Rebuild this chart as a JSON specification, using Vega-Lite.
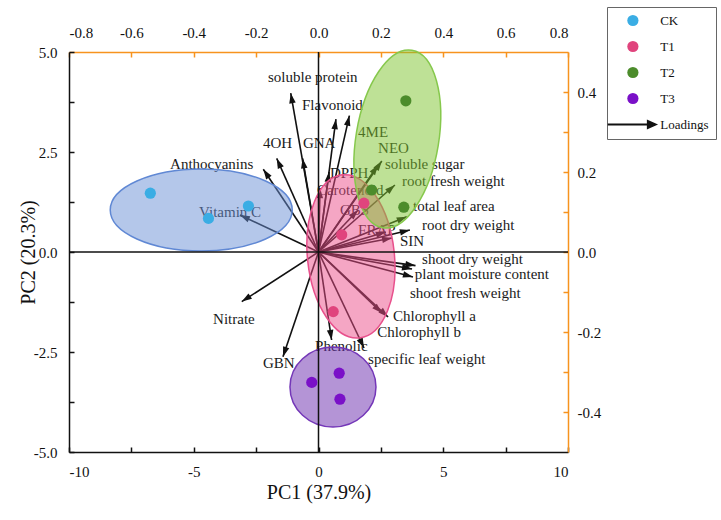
{
  "$schema": "https://vega.github.io/schema/vega-lite/v6.json",
  "width": 499,
  "height": 400,
  "autosize": {"type": "none"},
  "padding": {"left": 69, "top": 52, "right": 153, "bottom": 68},
  "background": "white",
  "config": {
    "view": {"stroke": null},
    "font": "Liberation Serif",
    "axis": {
      "labelFont": "Liberation Serif",
      "titleFont": "Liberation Serif",
      "labelFontSize": 15,
      "titleFontSize": 20,
      "titleFontWeight": "normal",
      "labelColor": "#111111",
      "titleColor": "#111111",
      "grid": false,
      "domainWidth": 1.5,
      "tickWidth": 1.5,
      "tickSize": -5,
      "domainColor": "#111111",
      "tickColor": "#111111"
    },
    "legend": {"labelFont": "Liberation Serif"}
  },
  "datasets": {
    "scores": [
      {"group": "CK", "x": -6.74, "y": 1.47},
      {"group": "CK", "x": -4.41, "y": 0.84},
      {"group": "CK", "x": -2.81, "y": 1.15},
      {"group": "T1", "x": 1.82, "y": 1.22},
      {"group": "T1", "x": 0.93, "y": 0.43},
      {"group": "T1", "x": 0.59, "y": -1.49},
      {"group": "T2", "x": 3.5, "y": 3.78},
      {"group": "T2", "x": 3.42, "y": 1.12},
      {"group": "T2", "x": 2.13, "y": 1.55},
      {"group": "T3", "x": -0.27, "y": -3.26},
      {"group": "T3", "x": 0.83, "y": -3.03},
      {"group": "T3", "x": 0.86, "y": -3.68}
    ],
    "ellipses": [
      {"group": "CK", "x": -4.7, "y": 1.05},
      {"group": "T1", "x": 1.3, "y": -0.11},
      {"group": "T2", "x": 3.16, "y": 2.825},
      {"group": "T3", "x": 0.58, "y": -3.375}
    ],
    "origin": [{"x": 0, "y": 0}],
    "loadings": [
      {"name": "soluble protein", "lx": -0.089, "ly": 0.397, "tx": -0.162, "ty": 0.4375},
      {"name": "Flavonoid", "lx": 0.056, "ly": 0.332, "tx": -0.053, "ty": 0.3675},
      {"name": "4ME", "lx": 0.099, "ly": 0.341, "tx": 0.127, "ty": 0.3},
      {"name": "GNA", "lx": -0.051, "ly": 0.234, "tx": -0.05, "ty": 0.2725},
      {"name": "4OH", "lx": -0.134, "ly": 0.234, "tx": -0.178, "ty": 0.2725},
      {"name": "Anthocyanins", "lx": -0.177, "ly": 0.207, "tx": -0.476, "ty": 0.22},
      {"name": "Vitamin C", "lx": -0.252, "ly": 0.0925, "tx": -0.383, "ty": 0.1},
      {"name": "DPPH", "lx": 0.034, "ly": 0.2, "tx": 0.037, "ty": 0.1975},
      {"name": "Carotenoid", "lx": 0.005, "ly": 0.16, "tx": -0.005, "ty": 0.155},
      {"name": "GBS", "lx": 0.127, "ly": 0.105, "tx": 0.069, "ty": 0.105},
      {"name": "FRAP", "lx": 0.216, "ly": 0.05, "tx": 0.127, "ty": 0.055},
      {"name": "SIN", "lx": 0.236, "ly": 0.035, "tx": 0.261, "ty": 0.0275},
      {"name": "root dry weight", "lx": 0.293, "ly": 0.055, "tx": 0.332, "ty": 0.0675},
      {"name": "total leaf area", "lx": 0.283, "ly": 0.088, "tx": 0.303, "ty": 0.115},
      {"name": "root fresh weight", "lx": 0.245, "ly": 0.1675, "tx": 0.268, "ty": 0.1775},
      {"name": "soluble sugar", "lx": 0.203, "ly": 0.2275, "tx": 0.213, "ty": 0.22},
      {"name": "NEO", "lx": 0.191, "ly": 0.2175, "tx": 0.191, "ty": 0.26},
      {"name": "shoot dry weight", "lx": 0.311, "ly": -0.034, "tx": 0.332, "ty": -0.0175},
      {"name": "plant moisture content", "lx": 0.3, "ly": -0.0425, "tx": 0.309, "ty": -0.055},
      {"name": "shoot fresh weight", "lx": 0.303, "ly": -0.0625, "tx": 0.293, "ty": -0.1025},
      {"name": "Chlorophyll a", "lx": 0.223, "ly": -0.1625, "tx": 0.239, "ty": -0.16},
      {"name": "Chlorophyll b", "lx": 0.203, "ly": -0.1525, "tx": 0.188, "ty": -0.2},
      {"name": "specific leaf weight", "lx": 0.146, "ly": -0.24, "tx": 0.159, "ty": -0.2675},
      {"name": "Phenolic", "lx": 0.042, "ly": -0.22, "tx": -0.011, "ty": -0.235},
      {"name": "GBN", "lx": -0.114, "ly": -0.262, "tx": -0.178, "ty": -0.2775},
      {"name": "Nitrate", "lx": -0.246, "ly": -0.124, "tx": -0.338, "ty": -0.1675}
    ]
  },
  "resolve": {
    "scale": {"x": "independent", "y": "independent"},
    "axis": {"x": "independent", "y": "independent"}
  },
  "layer": [
    {
      "data": {"name": "loadings"},
      "layer": [
        {
          "mark": {"type": "rule", "color": "#111111", "strokeWidth": 1.6},
          "encoding": {
            "x": {
              "field": "lx", "type": "quantitative",
              "scale": {"domain": [-0.8, 0.8], "nice": false, "zero": false},
              "axis": {
                "orient": "top", "title": null,
                "values": [-0.8, -0.6, -0.4, -0.2, 0, 0.2, 0.4, 0.6, 0.8],
                "labelExpr": "(datum.value < -0.001 ? '-' : '') + format(abs(datum.value), '.1f')",
                "labelFont": "Liberation Serif", "labelFontSize": 15,
                "domainColor": "#F7931E", "tickColor": "#F7931E",
                "labelPadding": 17
              }
            },
            "y": {
              "field": "ly", "type": "quantitative",
              "scale": {"domain": [-0.5, 0.5], "nice": false, "zero": false},
              "axis": {
                "orient": "right", "title": null,
                "values": [-0.4, -0.3, -0.2, -0.1, 0, 0.1, 0.2, 0.3, 0.4],
                "labelExpr": "round(datum.value * 10) % 2 !== 0 ? '' : (datum.value < -0.001 ? '-' : '') + format(abs(datum.value), '.1f')",
                "labelFont": "Liberation Serif", "labelFontSize": 15,
                "domainColor": "#F7931E", "tickColor": "#F7931E",
                "labelPadding": 14
              }
            },
            "x2": {"datum": 0},
            "y2": {"datum": 0}
          }
        },
        {
          "transform": [{"calculate": "atan2(datum.lx * 311.9, datum.ly * 400) * 180 / PI", "as": "ang"}],
          "mark": {"type": "point", "shape": "M0,0L0.42,1.3L-0.42,1.3Z", "filled": true, "color": "#111111", "size": 240, "opacity": 1, "strokeWidth": 0},
          "encoding": {
            "x": {"field": "lx", "type": "quantitative"},
            "y": {"field": "ly", "type": "quantitative"},
            "angle": {"field": "ang", "type": "quantitative", "scale": null}
          }
        },
        {
          "mark": {"type": "text", "align": "left", "baseline": "middle", "font": "Liberation Serif", "fontSize": 15, "color": "#1a1a1a"},
          "encoding": {
            "x": {"field": "tx", "type": "quantitative"},
            "y": {"field": "ty", "type": "quantitative"},
            "text": {"field": "name"}
          }
        }
      ]
    },
    {
      "layer": [
        {
          "data": {"name": "ellipses"},
          "transform": [{"filter": "datum.group === 'CK'"}],
          "mark": {"type": "point", "shape": "M0,-1C0.2485,-1,0.45,-0.552,0.45,0C0.45,0.552,0.2485,1,0,1C-0.2485,1,-0.45,0.552,-0.45,0C-0.45,-0.552,-0.2485,-1,0,-1Z", "size": 33124, "angle": 90, "filled": true, "fill": "#6A8FD6", "fillOpacity": 0.5, "stroke": "#6088D4", "strokeWidth": 1.5, "opacity": 1},
          "encoding": {
            "x": {"field": "x", "type": "quantitative"},
            "y": {"field": "y", "type": "quantitative"}
          }
        },
        {
          "data": {"name": "ellipses"},
          "transform": [{"filter": "datum.group === 'T1'"}],
          "mark": {"type": "point", "shape": "M0,-1C0.293,-1,0.53,-0.552,0.53,0C0.53,0.552,0.293,1,0,1C-0.293,1,-0.53,0.552,-0.53,0C-0.53,-0.552,-0.293,-1,0,-1Z", "size": 26896, "angle": -6, "filled": true, "fill": "#EC4D8A", "fillOpacity": 0.5, "stroke": "#E8508C", "strokeWidth": 1.5, "opacity": 1},
          "encoding": {
            "x": {"field": "x", "type": "quantitative"},
            "y": {"field": "y", "type": "quantitative"}
          }
        },
        {
          "data": {"name": "ellipses"},
          "transform": [{"filter": "datum.group === 'T2'"}],
          "mark": {"type": "point", "shape": "M0,-1C0.254,-1,0.46,-0.552,0.46,0C0.46,0.552,0.254,1,0,1C-0.254,1,-0.46,0.552,-0.46,0C-0.46,-0.552,-0.254,-1,0,-1Z", "size": 32400, "angle": 9.3, "filled": true, "fill": "#7DC32D", "fillOpacity": 0.5, "stroke": "#86C84C", "strokeWidth": 1.5, "opacity": 1},
          "encoding": {
            "x": {"field": "x", "type": "quantitative"},
            "y": {"field": "y", "type": "quantitative"}
          }
        },
        {
          "data": {"name": "ellipses"},
          "transform": [{"filter": "datum.group === 'T3'"}],
          "mark": {"type": "point", "shape": "M0,-1C0.514,-1,0.93,-0.552,0.93,0C0.93,0.552,0.514,1,0,1C-0.514,1,-0.93,0.552,-0.93,0C-0.93,-0.552,-0.514,-1,0,-1Z", "size": 7396, "angle": 90, "filled": true, "fill": "#6929AD", "fillOpacity": 0.5, "stroke": "#7437B8", "strokeWidth": 1.5, "opacity": 1},
          "encoding": {
            "x": {"field": "x", "type": "quantitative"},
            "y": {"field": "y", "type": "quantitative"}
          }
        },
        {
          "data": {"name": "origin"},
          "mark": {"type": "rule", "color": "#111111", "strokeWidth": 1.5},
          "encoding": {"y": {"field": "y", "type": "quantitative"}}
        },
        {
          "data": {"name": "origin"},
          "mark": {"type": "rule", "color": "#111111", "strokeWidth": 1.5},
          "encoding": {"x": {"field": "x", "type": "quantitative"}}
        },
        {
          "data": {"name": "scores"},
          "mark": {"type": "point", "filled": true, "opacity": 1, "strokeWidth": 0, "size": 125},
          "encoding": {
            "x": {
              "field": "x", "type": "quantitative",
              "scale": {"domain": [-10, 10], "nice": false, "zero": false},
              "axis": {
                "orient": "bottom", "title": "PC1 (37.9%)",
                "values": [-10, -7.5, -5, -2.5, 0, 2.5, 5, 7.5, 10],
                "labelExpr": "datum.value % 5 !== 0 ? '' : (datum.value < 0 ? '-' : '') + format(abs(datum.value), 'd')",
                "labelFont": "Liberation Serif", "labelFontSize": 15,
                "labelPadding": 17, "titlePadding": 3
              }
            },
            "y": {
              "field": "y", "type": "quantitative",
              "scale": {"domain": [-5, 5], "nice": false, "zero": false},
              "axis": {
                "orient": "left", "title": "PC2 (20.3%)",
                "values": [-5, -3.75, -2.5, -1.25, 0, 1.25, 2.5, 3.75, 5],
                "labelExpr": "round(datum.value / 1.25) % 2 !== 0 ? '' : (datum.value < 0 ? '-' : '') + format(abs(datum.value), '.1f')",
                "labelFont": "Liberation Serif", "labelFontSize": 15,
                "labelPadding": 17, "titlePadding": -5
              }
            },
            "color": {
              "field": "group", "type": "nominal",
              "scale": {
                "domain": ["CK", "T1", "T2", "T3", "Loadings"],
                "range": ["#3AADE4", "#E0447D", "#4C8C2B", "#7A10C8", "#111111"]
              },
              "legend": {
                "orient": "none", "legendX": 538, "legendY": -45,
                "title": null, "padding": 7, "strokeColor": "#666666", "fillColor": "white",
                "symbolSize": 125, "symbolStrokeWidth": 0, "symbolOffset": 12.4, "labelOffset": 20.8, "rowPadding": 12,
                "labelFont": "Liberation Serif", "labelFontSize": 13, "labelColor": "#111111",
                "symbolOpacity": 1
              }
            },
            "shape": {
              "field": "group", "type": "nominal",
              "scale": {
                "domain": ["CK", "T1", "T2", "T3", "Loadings"],
                "range": ["circle", "circle", "circle", "circle", "M-4.5,-0.18L2.5,-0.18L2.5,-0.9L4.5,0L2.5,0.9L2.5,0.18L-4.5,0.18Z"]
              },
              "legend": {
                "orient": "none", "legendX": 538, "legendY": -45,
                "title": null, "padding": 7, "strokeColor": "#666666", "fillColor": "white",
                "symbolSize": 125, "symbolStrokeWidth": 0, "symbolOffset": 12.4, "labelOffset": 20.8, "rowPadding": 12,
                "labelFont": "Liberation Serif", "labelFontSize": 13, "labelColor": "#111111",
                "symbolOpacity": 1
              }
            }
          }
        }
      ]
    }
  ]
}
